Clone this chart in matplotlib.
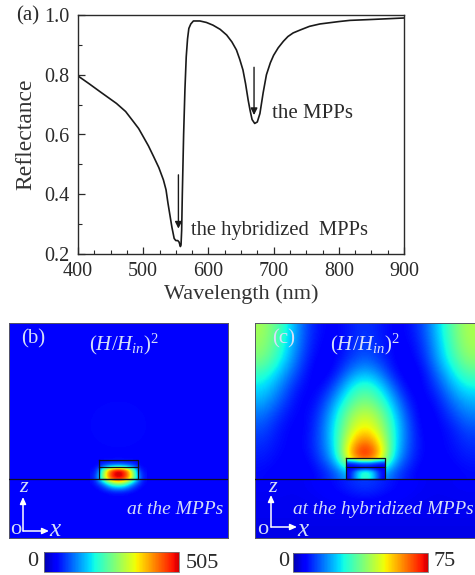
import matplotlib
matplotlib.use("Agg")
import matplotlib.pyplot as plt
from matplotlib.cm import ScalarMappable
from matplotlib.colors import Normalize
from matplotlib.ticker import MultipleLocator

plt.rcParams["font.family"] = ["Liberation Serif", "DejaVu Serif"]
plt.rcParams["mathtext.fontset"] = "custom"
plt.rcParams["mathtext.rm"] = "Liberation Serif"
plt.rcParams["mathtext.it"] = "Liberation Serif:italic"

W, H = 475, 575
INK = "#2a2a2a"
PALE = "#d5def8"

wavelength = [400, 417, 434, 459, 473, 485, 493, 500, 508, 516, 524, 531, 535, 538, 541, 544, 547.5, 550, 553, 555,
              557, 558, 559, 560, 562, 564, 566, 568, 570, 573, 577, 587, 597, 607, 618, 628, 636, 643, 648, 653,
              657, 661, 664, 667, 671, 675, 679, 684, 689, 695, 700, 707, 715, 722, 730, 741, 755, 771, 800, 817, 850, 900]
reflectance = [.796, .77, .743, .704, .677, .643, .62, .593, .562, .526, .489, .448, .415, .37, .33, .29, .252, .245, .245, .24,
               .225, .23, .28, .40, .60, .75, .86, .92, .955, .97, .98, .98, .975, .966, .952, .933, .91, .883, .852, .816,
               .77, .715, .68, .65, .637, .642, .67, .74, .80, .84, .865, .89, .912, .928, .94, .95, .962, .97, .978, .982, .985, .99]

# panel (b): nearly flat background, hot spot kept in its own small grid
b_background = [[.125, .125, .125, .125],
                [.125, .13, .13, .125],
                [.125, .13, .13, .125],
                [.12, .12, .12, .12]]
b_hotspot = [[.125, .125, .125, .125, .125, .125, .125, .125, .125, .125, .125],
             [.125, .125, .14, .15, .16, .16, .16, .15, .14, .125, .125],
             [.125, .13, .20, .25, .28, .30, .28, .25, .20, .13, .125],
             [.13, .18, .46, .70, .86, .92, .86, .70, .46, .18, .13],
             [.14, .22, .50, .75, .90, .95, .90, .75, .50, .22, .14],
             [.14, .24, .50, .74, .88, .93, .88, .74, .50, .24, .14],
             [.13, .20, .32, .48, .60, .65, .60, .48, .32, .20, .13],
             [.125, .15, .20, .28, .36, .38, .36, .28, .20, .15, .125],
             [.12, .125, .15, .18, .21, .22, .21, .18, .15, .125, .12],
             [.12, .12, .12, .125, .13, .13, .13, .125, .12, .12, .12]]

# panel (c): field above the metal film, inside the stack, and in the substrate
c_field = [[.55, .46, .33, .19, .13, .12, .15, .18, .15, .12, .13, .20, .33, .47, .56],
           [.53, .44, .31, .18, .12, .12, .16, .19, .16, .12, .12, .18, .31, .45, .55],
           [.50, .41, .28, .16, .11, .12, .18, .22, .18, .12, .11, .16, .29, .42, .52],
           [.42, .34, .23, .14, .10, .14, .25, .31, .25, .14, .10, .13, .24, .36, .45],
           [.35, .28, .18, .12, .12, .21, .36, .43, .36, .21, .11, .12, .19, .30, .37],
           [.30, .23, .15, .11, .16, .29, .44, .51, .44, .29, .14, .11, .15, .24, .30],
           [.24, .18, .13, .12, .19, .35, .53, .60, .53, .35, .18, .10, .13, .19, .25],
           [.20, .15, .12, .12, .21, .38, .58, .68, .58, .38, .20, .11, .12, .15, .20],
           [.17, .14, .12, .13, .21, .37, .68, .84, .68, .37, .20, .12, .12, .14, .17],
           [.15, .13, .12, .12, .19, .33, .76, .97, .76, .33, .18, .12, .12, .13, .15],
           [.13, .12, .11, .11, .14, .20, .30, .30, .30, .20, .14, .11, .11, .12, .13]]
c_stack = [[.45, .50, .55, .60, .60, .60, .55, .50, .45],
           [.20, .22, .25, .28, .28, .28, .25, .22, .20],
           [.12, .13, .14, .15, .15, .15, .14, .13, .12],
           [.12, .12, .13, .15, .16, .15, .13, .12, .12],
           [.13, .18, .28, .35, .38, .35, .28, .18, .13],
           [.13, .20, .30, .38, .40, .38, .30, .20, .13],
           [.12, .20, .30, .38, .40, .38, .30, .20, .12]]
c_substrate = [[.11, .10, .11, .14, .20, .14, .11, .10, .11],
               [.10, .10, .10, .11, .12, .11, .10, .10, .10],
               [.10, .10, .10, .10, .10, .10, .10, .10, .10],
               [.09, .09, .09, .09, .09, .09, .09, .09, .09]]

b_scale_max = 505
c_scale_max = 75


def fig_axes(fig, left, top, right, bottom):
    return fig.add_axes([left / W, 1 - bottom / H, (right - left) / W, (bottom - top) / H])


def fig_text(fig, x, y, s, **kw):
    kw.setdefault("ha", "center")
    kw.setdefault("va", "center")
    fig.text(x / W, 1 - y / H, s, **kw)


def show(ax, grid, extent):
    ax.imshow(grid, cmap="jet", vmin=0, vmax=1, interpolation="bicubic",
              extent=extent, aspect="auto", zorder=1)


def stack_outline(ax, x0, x1, top, inner, base, width):
    ax.plot([x0, x1, x1, x0, x0], [top, top, base, base, top], color="#101020", lw=0.9, zorder=3)
    ax.plot([x0, x1], [inner, inner], color="#101020", lw=0.9, zorder=3)
    ax.plot([0, width], [base, base], color="#101020", lw=0.9, zorder=3)


def axes_arrows(ax, x0, y0, z_tip, x_tip):
    style = dict(arrowstyle="-|>,head_width=0.18,head_length=0.4", color="white", lw=1.1,
                 shrinkA=0, shrinkB=0)
    ax.annotate("", xy=(x0, z_tip), xytext=(x0, y0), arrowprops=style, zorder=4)
    ax.annotate("", xy=(x_tip, y0), xytext=(x0, y0), arrowprops=style, zorder=4)


def scale_bar(fig, left, top, right, bottom, vmax):
    cax = fig_axes(fig, left, top, right, bottom)
    cb = fig.colorbar(ScalarMappable(Normalize(0, vmax), cmap="jet"), cax=cax, orientation="horizontal")
    cb.set_ticks([])
    cax.set_xlim(0.04 * vmax, 0.93 * vmax)
    cb.outline.set_edgecolor("#777777")
    cb.outline.set_linewidth(0.6)


fig = plt.figure(figsize=(W / 100, H / 100), dpi=100, facecolor="white")

# (a) reflectance spectrum
ax = fig_axes(fig, 78, 15, 404, 254)
ax.plot(wavelength, reflectance, color="#1a1a1a", lw=1.2)
ax.set_xlim(400, 900)
ax.set_ylim(0.2, 1.0)
ax.xaxis.set_major_locator(MultipleLocator(100))
ax.xaxis.set_minor_locator(MultipleLocator(25))
ax.yaxis.set_major_locator(MultipleLocator(0.2))
ax.yaxis.set_minor_locator(MultipleLocator(0.1))
ax.tick_params(which="major", direction="in", length=5, width=0.9, labelsize=14.5, colors=INK)
ax.tick_params(which="minor", direction="in", length=3, width=0.8, colors=INK)
ax.tick_params(axis="x", pad=6)
ax.tick_params(axis="y", pad=6)
for s in ax.spines.values():
    s.set_linewidth(1.0)
    s.set_color(INK)
ax.set_xlabel("Wavelength (nm)", fontsize=16, color="#333333", labelpad=2)
ax.set_ylabel("Reflectance", fontsize=17, color="#333333", labelpad=6)
arrow = dict(arrowstyle="-|>,head_width=0.2,head_length=0.4", color="#1a1a1a", lw=1.0,
             shrinkA=0, shrinkB=0)
ax.annotate("", xy=(670, 0.665), xytext=(670, 0.825), arrowprops=arrow)
ax.annotate("", xy=(554, 0.285), xytext=(554, 0.465), arrowprops=arrow)
ax.text(697, 0.669, "the MPPs", fontsize=15, color=INK, va="center")
ax.text(573, 0.28, "the hybridized  MPPs", fontsize=14.8, color=INK, va="center")
fig_text(fig, 28, 16, "(a)", fontsize=15, color=INK)

# (b) field map at the MPPs
ax_b = fig_axes(fig, 9, 323, 228, 538)
show(ax_b, b_background, (0, 219, 215, 0))
show(ax_b, b_hotspot, (81, 138, 173, 133))
ax_b.set_xlim(0, 219)
ax_b.set_ylim(215, 0)
ax_b.set_xticks([])
ax_b.set_yticks([])
for s in ax_b.spines.values():
    s.set_linewidth(0.7)
    s.set_color("#555566")
stack_outline(ax_b, 90, 129, 137, 144, 156, 219)
axes_arrows(ax_b, 14, 208, 174, 40)
fig_text(fig, 33, 339, "(b)", fontsize=15, color=PALE)
fig_text(fig, 124, 344, r"$(\mathit{H/H}_{in})^2$", fontsize=15, color=PALE)
fig_text(fig, 175, 510, "at the MPPs", fontsize=14, color=PALE, style="italic")
fig_text(fig, 24, 488, "z", fontsize=16, color=PALE, style="italic")
fig_text(fig, 55, 530, "x", fontsize=18, color=PALE, style="italic")
fig_text(fig, 16, 530, "o", fontsize=16, color=PALE)
scale_bar(fig, 44, 552, 179, 572, b_scale_max)
fig_text(fig, 33, 561, "0", fontsize=16, color=INK)
fig_text(fig, 202, 563, str(b_scale_max), fontsize=16, color=INK)

# (c) field map at the hybridized MPPs
ax_c = fig_axes(fig, 255, 323, 475, 538)
show(ax_c, c_field, (0, 220, 156, 0))
show(ax_c, c_stack, (91, 130, 156, 135))
show(ax_c, c_substrate, (0, 220, 215, 156))
ax_c.set_xlim(0, 220)
ax_c.set_ylim(215, 0)
ax_c.set_xticks([])
ax_c.set_yticks([])
for s in ax_c.spines.values():
    s.set_linewidth(0.7)
    s.set_color("#555566")
stack_outline(ax_c, 91, 130, 135, 144, 156, 220)
axes_arrows(ax_c, 16, 204, 172, 42)
fig_text(fig, 284, 339, "(c)", fontsize=15, color=PALE)
fig_text(fig, 365, 344, r"$(\mathit{H/H}_{in})^2$", fontsize=15, color=PALE)
fig_text(fig, 383, 510, "at the hybridized MPPs", fontsize=13.8, color=PALE, style="italic")
fig_text(fig, 273, 487, "z", fontsize=16, color=PALE, style="italic")
fig_text(fig, 303, 530, "x", fontsize=18, color=PALE, style="italic")
fig_text(fig, 263, 530, "o", fontsize=16, color=PALE)
scale_bar(fig, 293, 553, 428, 572, c_scale_max)
fig_text(fig, 284, 562, "0", fontsize=16, color=INK)
fig_text(fig, 445, 562, str(c_scale_max), fontsize=16, color=INK)

fig.savefig("out.png", dpi=100)
